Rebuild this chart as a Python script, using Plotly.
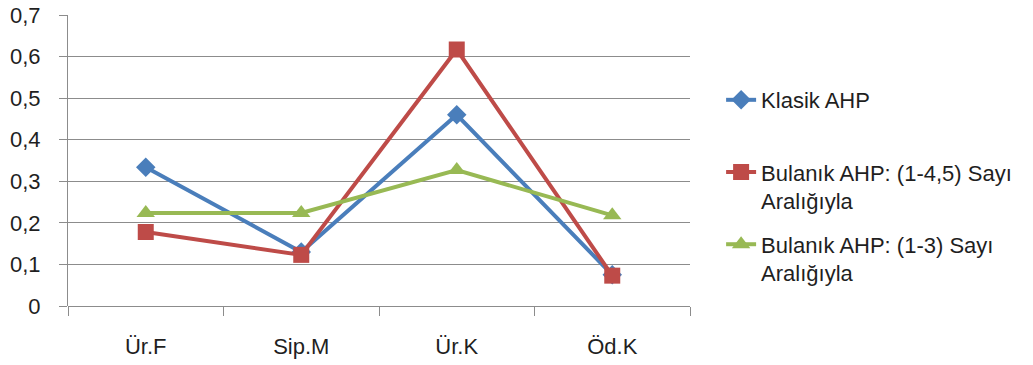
import plotly.graph_objects as go

categories = ["Ür.F", "Sip.M", "Ür.K", "Öd.K"]
klasik_ahp = [0.334, 0.13, 0.46, 0.075]
bulanik_45 = [0.178, 0.123, 0.617, 0.073]
bulanik_3 = [0.224, 0.224, 0.327, 0.218]
y_ticks = [0, 0.1, 0.2, 0.3, 0.4, 0.5, 0.6, 0.7]
y_tick_text = ["0", "0,1", "0,2", "0,3", "0,4", "0,5", "0,6", "0,7"]

FONT = "Liberation Sans"
FS = 22
TEXT = "#1f1f1f"
GRID = "#8c8c8c"

# every legend entry spans two text lines so the entries sit evenly spaced
series = [
    ("Klasik AHP<br> ", klasik_ahp, "#4a7ebb", "diamond", 15),
    ("Bulanık AHP: (1-4,5) Sayı<br>Aralığıyla", bulanik_45, "#be4b48", "square", 16),
    ("Bulanık AHP: (1-3) Sayı<br>Aralığıyla", bulanik_3, "#98b954", "triangle-up", 16),
]

fig = go.Figure()
for i, (name, vals, color, symbol, size) in enumerate(series):
    fig.add_trace(go.Scatter(
        x=categories, y=vals, name=name, mode="lines+markers",
        legendgroup=f"g{i}",
        line=dict(color=color, width=4),
        marker=dict(symbol=symbol, size=size, color=color),
    ))

fig.update_layout(
    width=1033, height=365,
    margin=dict(l=68, r=343, t=15, b=59),
    paper_bgcolor="white", plot_bgcolor="white",
    font=dict(family=FONT, size=FS, color=TEXT),
    showlegend=True,
    legend=dict(
        x=1.05, xanchor="left", y=0.78, yanchor="top",
        valign="top", tracegroupgap=12,
        font=dict(family=FONT, size=FS, color=TEXT),
        bgcolor="rgba(0,0,0,0)",
    ),
)
fig.update_xaxes(
    type="category", tickson="boundaries", ticks="outside", ticklen=9,
    tickcolor=GRID, showgrid=False, showline=False, automargin=False,
    range=[-0.5, 3.5], ticklabelstandoff=25,
    tickfont=dict(family=FONT, size=FS, color=TEXT),
)
fig.update_yaxes(
    range=[0, 0.7], tickvals=y_ticks, ticktext=y_tick_text,
    ticks="outside", ticklen=8, tickcolor=GRID, automargin=False,
    showgrid=True, gridcolor=GRID, gridwidth=1,
    showline=True, linecolor=GRID, linewidth=1,
    zeroline=True, zerolinecolor=GRID, zerolinewidth=1,
    ticklabelstandoff=14,
    tickfont=dict(family=FONT, size=FS, color=TEXT),
)

fig.write_html("out.html")
